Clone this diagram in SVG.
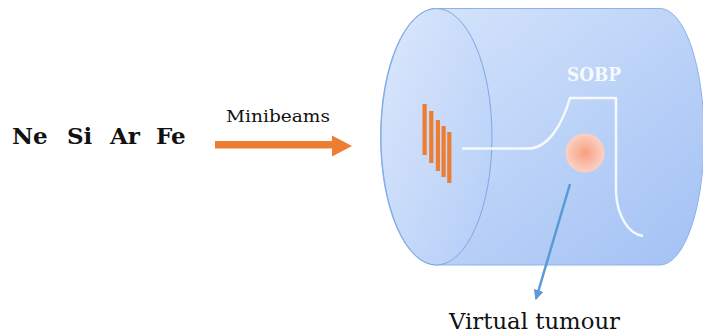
<svg xmlns="http://www.w3.org/2000/svg" width="703" height="336" viewBox="0 0 703 336">
  <defs>
    <linearGradient id="bodyFill" x1="0" y1="0" x2="1" y2="1">
      <stop offset="0" stop-color="#d8e6fc"/>
      <stop offset="1" stop-color="#a2c1f4"/>
    </linearGradient>
    <linearGradient id="faceFill" x1="0" y1="0" x2="1" y2="1">
      <stop offset="0" stop-color="#dce8fc"/>
      <stop offset="1" stop-color="#b3cdf7"/>
    </linearGradient>
    <radialGradient id="tumourFill" cx="0.5" cy="0.5" r="0.5">
      <stop offset="0" stop-color="#f79e80"/>
      <stop offset="1" stop-color="#fbd2c2"/>
    </radialGradient>
    <marker id="blueHead" viewBox="0 0 10 10" refX="9" refY="5" markerWidth="4" markerHeight="4" orient="auto" markerUnits="strokeWidth">
      <path d="M0,0 L10,5 L0,10 Z" fill="#5b9bd5"/>
    </marker>
    <style>
      .label { font-family: "DejaVu Serif", "Liberation Serif", serif; fill: #111; }
      .ion { font-family: "DejaVu Serif", "Liberation Serif", serif; font-weight: bold; font-size: 23px; fill: #111; }
      .bar { fill: #ed7d31; }
      .sobp { fill: none; stroke: #ffffff; stroke-opacity: 0.85; stroke-width: 2.5; stroke-linejoin: round; }
    </style>
  </defs>

  <!-- ion species -->
  <g id="ions">
    <text class="ion" x="12" y="143.5">Ne</text>
    <text class="ion" x="67" y="143.5">Si</text>
    <text class="ion" x="110" y="143.5">Ar</text>
    <text class="ion" x="156" y="143.5">Fe</text>
  </g>

  <!-- beam direction -->
  <g id="minibeams">
    <text class="label" x="226" y="122" font-size="17.5" textLength="104" lengthAdjust="spacingAndGlyphs">Minibeams</text>
    <path d="M215,141 L332,141 L332,135.5 L352,146 L332,156.5 L332,148.5 L215,148.5 Z" fill="#ed7d31"/>
  </g>

  <!-- water phantom cylinder -->
  <g id="phantom">
    <path d="M436,8.5 L660,8.5 A44,128 0 0 1 660,265 L436,265 A55.5,128.25 0 0 1 436,8.5 Z" fill="url(#bodyFill)" stroke="#8db2ea" stroke-width="1"/>
    <ellipse cx="436.5" cy="136.75" rx="55.5" ry="128.25" fill="url(#faceFill)" stroke="#7fa8e4" stroke-width="1"/>
  </g>

  <!-- beamlets entering the phantom -->
  <g id="beamlets">
    <rect class="bar" x="422.5" y="104" width="4.2" height="51"/>
    <rect class="bar" x="429.2" y="111" width="4.2" height="52"/>
    <rect class="bar" x="435.8" y="120" width="4.2" height="51"/>
    <rect class="bar" x="441.5" y="126" width="4.2" height="51"/>
    <rect class="bar" x="447.2" y="132" width="4.2" height="51"/>
  </g>

  <!-- spread-out Bragg peak dose profile -->
  <g id="sobp">
    <path class="sobp" d="M462,148.5 L528,148.5 C548,148.5 562,125 570,98 L616,98 L616,192 C617,215 628,234 643,236"/>
    <text x="567" y="80.5" font-family="DejaVu Serif, Liberation Serif, serif" font-weight="bold" font-size="18" fill="#ffffff" fill-opacity="0.9" textLength="54" lengthAdjust="spacingAndGlyphs">SOBP</text>
  </g>

  <!-- target volume -->
  <g id="tumour">
    <circle cx="585" cy="153" r="19.5" fill="url(#tumourFill)"/>
  </g>

  <g id="connectors">
    <line x1="570" y1="184" x2="536" y2="299" stroke="#5b9bd5" stroke-width="2.5" marker-end="url(#blueHead)"/>
  </g>

  <g id="tumour-label">
    <text class="label" x="449" y="329" font-size="23" textLength="171" lengthAdjust="spacingAndGlyphs">Virtual tumour</text>
  </g>
</svg>
